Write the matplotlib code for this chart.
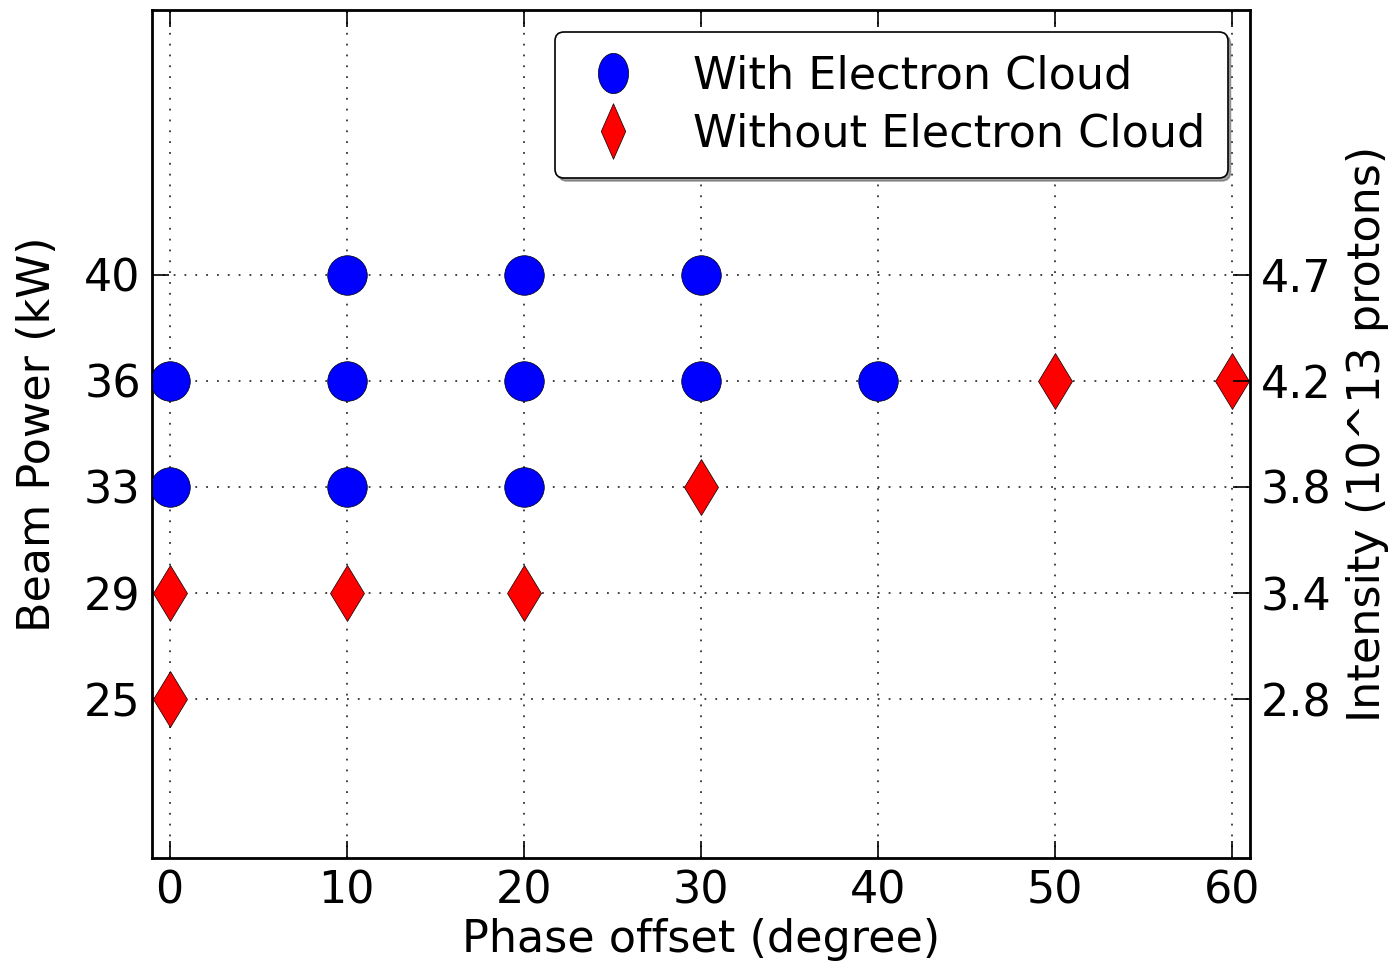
import numpy as np
import matplotlib
matplotlib.use('Agg')
import matplotlib.pyplot as plt
from matplotlib.lines import Line2D
from matplotlib.path import Path
from matplotlib.transforms import Affine2D

# beam power levels (left axis) and matching intensities (right axis)
power_levels = [25, 29, 33, 36, 40]
intensity_labels = ['2.8', '3.4', '3.8', '4.2', '4.7']

# phase offset (degree) and beam power (kW) for each run
with_phase = [10, 20, 30, 0, 10, 20, 30, 40, 0, 10, 20]
with_power = [40, 40, 40, 36, 36, 36, 36, 36, 33, 33, 33]

without_phase = [50, 60, 30, 0, 10, 20, 0]
without_power = [36, 36, 33, 29, 29, 29, 25]

x_ticks = [0, 10, 20, 30, 40, 50, 60]

# power levels are placed evenly on the y axis
level_pos = {p: i + 1 for i, p in enumerate(power_levels)}
with_y = [level_pos[p] for p in with_power]
without_y = [level_pos[p] for p in without_power]

plt.rcParams['font.family'] = 'DejaVu Sans'
plt.rcParams['xtick.direction'] = 'in'
plt.rcParams['ytick.direction'] = 'in'

fs = 32
fig = plt.figure(figsize=(13.88, 9.67), dpi=100)
ax = fig.add_axes([0.1095, 0.1127, 0.791, 0.877])

ms = 28.5
ax.plot(with_phase, with_y, 'o', color='blue', markersize=ms,
        markeredgecolor='black', markeredgewidth=0.5, zorder=3)
ax.plot(without_phase, without_y, 'd', color='red', markersize=ms,
        markeredgecolor='black', markeredgewidth=0.5, zorder=3)

ax.set_xlim(-1, 61)
ax.set_ylim(-0.5, 7.5)
ax.set_xticks(x_ticks)
ax.set_yticks([level_pos[p] for p in power_levels])
ax.set_yticklabels([str(p) for p in power_levels])
ax.tick_params(labelsize=fs, length=12, width=1.2, top=True, pad=8)
ax.grid(True, linestyle=(0, (1, 5)), color='#333333', linewidth=1.3)
for s in ax.spines.values():
    s.set_linewidth(2)

ax.set_xlabel('Phase offset (degree)', fontsize=fs, labelpad=4)
ax.set_ylabel('Beam Power (kW)', fontsize=fs, labelpad=18)

ax2 = ax.twinx()
ax2.set_ylim(ax.get_ylim())
ax2.set_yticks([level_pos[p] for p in power_levels])
ax2.set_yticklabels(intensity_labels)
ax2.tick_params(labelsize=fs, length=12, width=1.2, pad=8, direction='in')
ax2.set_ylabel('Intensity (10^13 protons)', fontsize=fs, labelpad=10)

# legend markers are drawn narrower than the plot markers
ell = Path.unit_circle().transformed(Affine2D().scale(0.75, 1.0))
dia = Path([(0, 1), (0.44, 0), (0, -1), (-0.44, 0), (0, 1)],
           [Path.MOVETO, Path.LINETO, Path.LINETO, Path.LINETO, Path.CLOSEPOLY])
handles = [
    Line2D([], [], linestyle='none', marker=ell, markersize=29, color='blue',
           markeredgecolor='black', markeredgewidth=0.5),
    Line2D([], [], linestyle='none', marker=dia, markersize=40, color='red',
           markeredgecolor='black', markeredgewidth=0.5),
]
leg = ax2.legend(handles, ['With Electron Cloud', 'Without Electron Cloud'],
                 loc='upper right', fontsize=fs, numpoints=1, fancybox=True,
                 shadow=True, framealpha=1, edgecolor='black',
                 borderaxespad=0.5, handletextpad=1.0, handlelength=1.6,
                 labelspacing=0.35, borderpad=0.5)
leg.get_frame().set_linewidth(1.2)

fig.savefig('out.png', dpi=100)
